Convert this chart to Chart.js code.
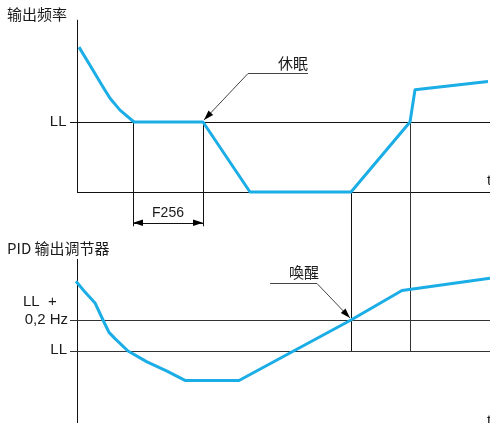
<!DOCTYPE html>
<html>
<head>
<meta charset="utf-8">
<script src="https://cdn.jsdelivr.net/npm/chart.js@4.4.1/dist/chart.umd.min.js"></script>
<style>
  html, body { margin: 0; padding: 0; background: #fff; }
</style>
</head>
<body>
<canvas id="chart" width="490" height="423"></canvas>
<script>
// top panel: output frequency (Hz) vs time (s)
const freqTimes  = [0.2, 1.3, 2.6, 3.3, 4.3, 5.7, 12.6, 17.3, 27.4, 33.3, 33.8, 41.1];
const freqValues = [20.7, 18.1, 15.0, 13.4, 11.7, 10.0, 10.0, 0.0, 0.0, 10.0, 14.6, 15.8];

// bottom panel: PID regulator output (Hz) vs time (s)
const pidTimes  = [-0.1, 0.8, 1.8, 2.6, 3.2, 3.8, 5.1, 7.0, 9.0, 10.8, 16.2, 27.4, 32.5, 41.3];
const pidValues = [10.45, 10.38, 10.31, 10.2, 10.12, 10.08, 10.0, 9.93, 9.87, 9.81, 9.81, 10.2, 10.39, 10.47];

// levels
const LL = 10;            // low speed limit
const LL_WAKE = 10.2;     // LL + 0,2 Hz
const sleepStart = 5.6;   // F256 delay begins
const sleepTime = 12.6;   // 休眠
const wakeTime = 27.4;    // 唤醒
const reachLL = 33.3;

const blue = '#1aade6';
const ink = '#111';

function pts(xs, ys) {
  return xs.map((x, i) => ({ x: x, y: ys[i] }));
}

function line(ctx, x1, y1, x2, y2, color) {
  ctx.beginPath();
  ctx.strokeStyle = color || ink;
  ctx.lineWidth = 1;
  // snap to pixel grid for crisp 1px strokes
  if (x1 === x2) { x1 = x2 = Math.round(x1) + 0.5; }
  if (y1 === y2) { y1 = y2 = Math.round(y1) + 0.5; }
  ctx.moveTo(x1, y1);
  ctx.lineTo(x2, y2);
  ctx.stroke();
}

function arrowHead(ctx, fromX, fromY, tipX, tipY) {
  const a = Math.atan2(tipY - fromY, tipX - fromX);
  const len = 10, w = 3.2;
  ctx.beginPath();
  ctx.fillStyle = '#000';
  ctx.moveTo(tipX, tipY);
  ctx.lineTo(tipX - len * Math.cos(a) + w * Math.sin(a), tipY - len * Math.sin(a) - w * Math.cos(a));
  ctx.lineTo(tipX - len * Math.cos(a) - w * Math.sin(a), tipY - len * Math.sin(a) + w * Math.cos(a));
  ctx.closePath();
  ctx.fill();
}

function text(ctx, str, x, y, align, font) {
  ctx.fillStyle = '#1a1a1a';
  ctx.font = font || '14px "Liberation Sans", Arial, sans-serif';
  ctx.textAlign = align || 'left';
  ctx.textBaseline = 'middle';
  ctx.fillText(str, x, y);
}

const cjk = '15px "Noto Sans CJK SC", sans-serif';
const latin = '15px "Liberation Sans", Arial, sans-serif';

// axes, guide lines and labels of the timing diagram
const diagram = {
  id: 'diagram',
  beforeDatasetsDraw(chart) {
    const ctx = chart.ctx;
    const x = chart.scales.x, yt = chart.scales.yTop, yb = chart.scales.yBot;
    const X = v => x.getPixelForValue(v);
    const T = v => yt.getPixelForValue(v);
    const B = v => yb.getPixelForValue(v);
    ctx.save();

    // top panel axes
    line(ctx, X(0), T(24.6), X(0), T(0));
    line(ctx, X(0), T(0), X(x.max), T(0));
    line(ctx, X(-0.7), T(LL), X(x.max), T(LL));

    // bottom panel axes
    line(ctx, X(0), B(10.594), X(0), B(yb.min));
    line(ctx, X(-0.7), B(LL_WAKE), X(x.max), B(LL_WAKE), '#333');
    line(ctx, X(-0.7), B(LL), X(x.max), B(LL), '#333');

    // vertical guides
    line(ctx, X(sleepStart), T(LL), X(sleepStart), T(-4.9));
    line(ctx, X(sleepTime), T(LL), X(sleepTime), T(-4.9));
    line(ctx, X(wakeTime), T(0), X(wakeTime), B(LL));
    line(ctx, X(reachLL), T(LL), X(reachLL), B(LL), '#333');

    ctx.restore();
  },
  afterDatasetsDraw(chart) {
    const ctx = chart.ctx;
    const x = chart.scales.x, yt = chart.scales.yTop, yb = chart.scales.yBot;
    const X = v => x.getPixelForValue(v);
    const T = v => yt.getPixelForValue(v);
    const B = v => yb.getPixelForValue(v);
    ctx.save();

    // F256 double arrow
    const fy = T(-4.4);
    line(ctx, X(sleepStart), fy, X(sleepTime), fy);
    arrowHead(ctx, X(sleepTime), fy, X(sleepStart), fy);
    arrowHead(ctx, X(sleepStart), fy, X(sleepTime), fy);
    text(ctx, 'F256', (X(sleepStart) + X(sleepTime)) / 2, T(-3.0), 'center', '14px "Liberation Sans", Arial, sans-serif');

    // 休眠 callout
    ctx.lineWidth = 1;
    ctx.strokeStyle = '#444';
    ctx.beginPath();
    ctx.moveTo(X(23.1), Math.round(T(17.0)) + 0.5);
    ctx.lineTo(X(17.1), Math.round(T(17.0)) + 0.5);
    ctx.lineTo(X(sleepTime) + 1, T(LL) - 2);
    ctx.stroke();
    arrowHead(ctx, X(17.1), T(17.0), X(sleepTime) + 1, T(LL) - 2);
    text(ctx, '休眠', X(21.6), T(18.4), 'center', cjk);

    // 唤醒 callout
    ctx.strokeStyle = '#444';
    ctx.beginPath();
    ctx.moveTo(X(19.3), Math.round(B(10.44)) + 0.5);
    ctx.lineTo(X(24.0), Math.round(B(10.44)) + 0.5);
    ctx.lineTo(X(wakeTime) - 1, B(LL_WAKE) - 2);
    ctx.stroke();
    arrowHead(ctx, X(24.0), B(10.44), X(wakeTime) - 1, B(LL_WAKE) - 2);
    text(ctx, '喚醒', X(22.7), B(10.51), 'center', cjk);

    // axis titles and level labels
    text(ctx, '输出频率', X(-7.0), T(25.4), 'left', cjk);
    text(ctx, 'LL', X(-1.05), T(LL), 'right', latin);
    text(ctx, 't', X(41.0), T(1.6), 'left', latin);

    text(ctx, 'PID 输出调节器', X(-7.0), B(10.665), 'left', cjk);
    text(ctx, 'LL  +', X(-5.4), B(10.32), 'left', latin);
    text(ctx, '0,2 Hz', X(-0.9), B(LL_WAKE), 'right', latin);
    text(ctx, 'LL', X(-1.0), B(LL) - 1, 'right', latin);
    text(ctx, 't', X(41.0), B(9.55), 'left', latin);

    ctx.restore();
  }
};

new Chart(document.getElementById('chart'), {
  type: 'line',
  data: {
    datasets: [
      {
        label: '输出频率',
        data: pts(freqTimes, freqValues),
        yAxisID: 'yTop',
        borderColor: blue,
        borderWidth: 3,
        pointRadius: 0,
        tension: 0,
        borderJoinStyle: 'round',
        clip: false,
      },
      {
        label: 'PID 输出调节器',
        data: pts(pidTimes, pidValues),
        yAxisID: 'yBot',
        borderColor: blue,
        borderWidth: 3,
        pointRadius: 0,
        tension: 0,
        borderJoinStyle: 'round',
        clip: false,
      },
    ],
  },
  options: {
    responsive: false,
    animation: false,
    events: [],
    layout: { padding: 0 },
    plugins: { legend: { display: false }, tooltip: { enabled: false } },
    scales: {
      // 10 px per second, t = 0 at the vertical axes
      x: { type: 'linear', min: -7.7, max: 41.3, display: false },
      // 7 px per Hz, 0 Hz on the top time axis
      yTop: { type: 'linear', min: -33.0, max: 192 / 7, display: false },
      // LL at the lower guide, 0,2 Hz spread over 31 px
      yBot: { type: 'linear', min: 10 - 72 / 155, max: 10 + 351 / 155, display: false },
    },
  },
  plugins: [diagram],
});
</script>
</body>
</html>
